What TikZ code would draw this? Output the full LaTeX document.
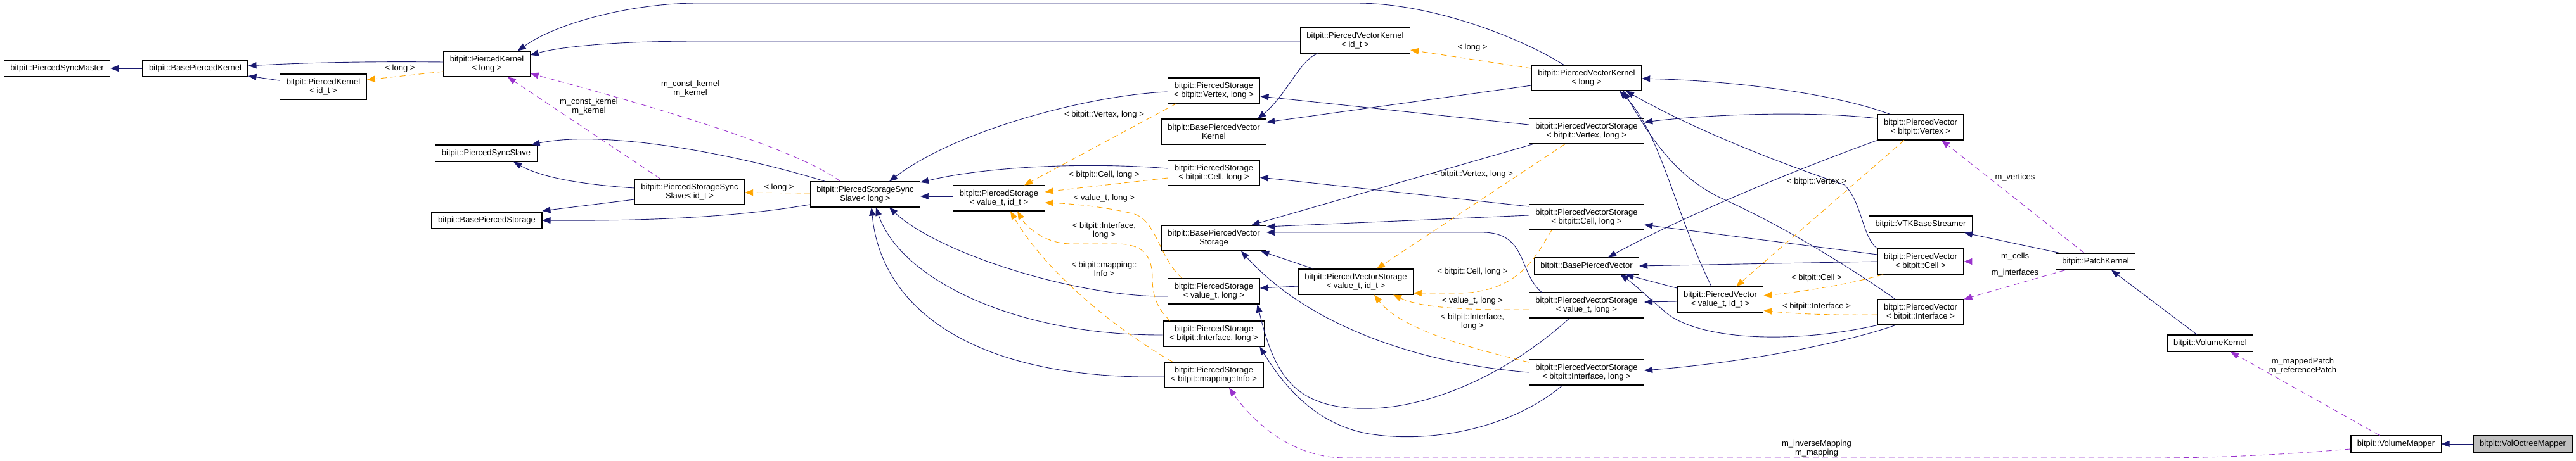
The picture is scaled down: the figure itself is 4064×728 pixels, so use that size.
\documentclass[tikz,border=0pt]{standalone}
\usepackage{fontspec}
\setmainfont{Liberation Sans}
\usepackage{tikz}
\usetikzlibrary{arrows.meta}
\definecolor{inheritcolor}{HTML}{191970}
\definecolor{templatecolor}{HTML}{FFA500}
\definecolor{usagecolor}{HTML}{9A32CD}
\colorlet{focusfill}{black!25}
\tikzset{
  class box/.style={
      draw=black, line width=1.1pt, fill=white, align=center,
      inner xsep=10pt, inner ysep=2pt, minimum height=26pt
    },
  class box two/.style={class box, minimum height=40pt},
  focus box/.style={class box, fill=focusfill},
  inherit arrow/.style={
      inheritcolor, line width=0.9pt,
        -{Triangle[length=13pt,width=10pt]}
    },
  template arrow/.style={
      templatecolor, line width=0.9pt, dash pattern=on 9pt off 6pt,
        -{Triangle[length=13pt,width=10pt]}
    },
  usage arrow/.style={
      usagecolor, line width=0.9pt, dash pattern=on 9pt off 6pt,
        -{Triangle[length=13pt,width=10pt]}
    },
  link label/.style={text=black, align=center, inner sep=0pt}
}

\begin{document}
\begin{tikzpicture}[x=1pt, y=-1pt, font=\fontsize{13}{14}\selectfont]

  \useasboundingbox (0,0) rectangle (4064,728);

  % ------------------------------------------------------------------
  % Kernel and storage classes on the left.
  % ------------------------------------------------------------------
  \node[class box] (syncmaster) at (90,108) {bitpit::PiercedSyncMaster};
  \node[class box] (basekernel) at (308,108) {bitpit::BasePiercedKernel};
  \node[class box two] (kernelid) at (510,137) {bitpit::PiercedKernel\\< id\_t >};
  \node[class box two] (kernellong) at (768,101) {bitpit::PiercedKernel\\< long >};
  \node[class box] (syncslave) at (767,242) {bitpit::PiercedSyncSlave};
  \node[class box] (basestorage) at (768,348) {bitpit::BasePiercedStorage};
  \node[class box two] (storsyncid) at (1088,303) {bitpit::PiercedStorageSync\\Slave< id\_t >};
  \node[class box two] (storsynclong) at (1365,307) {bitpit::PiercedStorageSync\\Slave< long >};
  \node[class box two] (storvalid) at (1576,313) {bitpit::PiercedStorage\\< value\_t, id\_t >};

  \node[class box two] (storvertex) at (1915,143) {bitpit::PiercedStorage\\< bitpit::Vertex, long >};
  \node[class box two] (basevecker) at (1915,208) {bitpit::BasePiercedVector\\Kernel};
  \node[class box two] (storcell) at (1915,273) {bitpit::PiercedStorage\\< bitpit::Cell, long >};
  \node[class box two] (basevecstor) at (1915,376) {bitpit::BasePiercedVector\\Storage};
  \node[class box two] (storvallong) at (1915,460) {bitpit::PiercedStorage\\< value\_t, long >};
  \node[class box two] (storiface) at (1915,527) {bitpit::PiercedStorage\\< bitpit::Interface, long >};
  \node[class box two] (stormapping) at (1915,592) {bitpit::PiercedStorage\\< bitpit::mapping::Info >};

  % ------------------------------------------------------------------
  % Vector kernels, vector storages and pierced vectors.
  % ------------------------------------------------------------------
  \node[class box two] (veckerid) at (2138,64) {bitpit::PiercedVectorKernel\\< id\_t >};
  \node[class box two] (veckerlong) at (2503,123) {bitpit::PiercedVectorKernel\\< long >};
  \node[class box two] (vecstorvertex) at (2503,207) {bitpit::PiercedVectorStorage\\< bitpit::Vertex, long >};
  \node[class box two] (vecstorcell) at (2503,343) {bitpit::PiercedVectorStorage\\< bitpit::Cell, long >};
  \node[class box two] (vecstorvalid) at (2139,445) {bitpit::PiercedVectorStorage\\< value\_t, id\_t >};
  \node[class box] (basevec) at (2503,420) {bitpit::BasePiercedVector};
  \node[class box two] (vecstorvallong) at (2503,482) {bitpit::PiercedVectorStorage\\< value\_t, long >};
  \node[class box two] (vecstoriface) at (2503,588) {bitpit::PiercedVectorStorage\\< bitpit::Interface, long >};
  \node[class box two] (vecvalid) at (2714,473) {bitpit::PiercedVector\\< value\_t, id\_t >};

  \node[class box two] (vecvertex) at (3030,201) {bitpit::PiercedVector\\< bitpit::Vertex >};
  \node[class box] (vtk) at (3030,354) {bitpit::VTKBaseStreamer};
  \node[class box two] (veccell) at (3030,413) {bitpit::PiercedVector\\< bitpit::Cell >};
  \node[class box two] (veciface) at (3030,493) {bitpit::PiercedVector\\< bitpit::Interface >};

  % ------------------------------------------------------------------
  % Patch, kernel and mapper.
  % ------------------------------------------------------------------
  \node[class box] (patch) at (3306,413) {bitpit::PatchKernel};
  \node[class box] (volkernel) at (3487,542) {bitpit::VolumeKernel};
  \node[class box] (volmapper) at (3780,701) {bitpit::VolumeMapper};
  \node[focus box] (voloctree) at (3980,701) {bitpit::VolOctreeMapper};

  % ------------------------------------------------------------------
  % Inheritance.
  % ------------------------------------------------------------------
  \draw[inherit arrow] (basekernel) -- (syncmaster);
  \draw[inherit arrow] (kernelid) -- (basekernel);
  \draw[inherit arrow] ([yshift=3pt]kernellong.west) .. controls (600,97) and (500,98) .. ([yshift=4pt]basekernel.east);
  \draw[inherit arrow] ([xshift=-36pt]veckerlong.north) .. controls (2400,60) and (2260,5) .. (2140,5)
  -- (1100,5) .. controls (1000,5) and (880,35) .. ([xshift=-20pt]kernellong.north east);
  \draw[inherit arrow] ([yshift=-1pt]veckerid.west) -- (1100,65) .. controls (960,65) and (880,75) .. ([yshift=14pt]kernellong.east);

  \draw[inherit arrow] ([yshift=6pt]storsyncid.west) .. controls (930,292) and (860,283) .. ([xshift=43pt]syncslave.south);
  \draw[inherit arrow] ([xshift=-63pt]storsynclong.north) .. controls (1150,240) and (950,205) .. ([xshift=-9pt]syncslave.north east);
  \draw[inherit arrow] ([yshift=-12pt]storsyncid.west) -- ([yshift=15pt]basestorage.east);
  \draw[inherit arrow] ([yshift=-16pt]storsynclong.west) .. controls (1150,345) and (1000,349) .. (basestorage.east);

  \draw[inherit arrow] ([yshift=-2pt]storvertex.west) .. controls (1720,150) and (1510,205) .. ([xshift=38pt]storsynclong.north);
  \draw[inherit arrow] ([yshift=7pt]storcell.west) .. controls (1720,256) and (1560,262) .. ([yshift=19pt]storsynclong.east);
  \draw[inherit arrow] ([yshift=3pt]storvalid.west) -- ([yshift=-3pt]storsynclong.east);
  \draw[inherit arrow] ([yshift=-8pt]storvallong.west) .. controls (1700,470) and (1480,400) .. ([xshift=38pt]storsynclong.south);
  \draw[inherit arrow] ([yshift=-2pt]storiface.west) .. controls (1600,530) and (1420,440) .. ([xshift=17pt]storsynclong.south);
  \draw[inherit arrow] ([yshift=-3pt]stormapping.west) .. controls (1540,600) and (1390,490) .. ([xshift=10pt]storsynclong.south);

  \draw[inherit arrow] ([xshift=-59pt]veckerid.south) .. controls (2050,95) and (2030,150) .. ([xshift=-14pt]basevecker.north east);
  \draw[inherit arrow] ([yshift=-12pt]veckerlong.west) -- ([yshift=15pt]basevecker.east);
  \draw[inherit arrow] ([yshift=10pt]vecstorvertex.west) -- ([yshift=-9pt]storvertex.east);
  \draw[inherit arrow] ([yshift=17pt]vecstorcell.west) -- ([yshift=-7pt]storcell.east);
  \draw[inherit arrow] ([xshift=7pt]vecstorvertex.south west) -- ([xshift=-24pt]basevecstor.north east);
  \draw[inherit arrow] ([yshift=3pt]vecstorcell.west) -- ([yshift=18pt]basevecstor.east);
  \draw[inherit arrow] ([xshift=-71pt]vecstorvallong.north) .. controls (2395,430) and (2410,368) .. (2340,367)
  -- ([yshift=9pt]basevecstor.east);
  \draw[inherit arrow] ([xshift=-67pt]vecstorvalid.north) -- ([xshift=-9pt]basevecstor.south east);
  \draw[inherit arrow] (vecstoriface.west) .. controls (2250,575) and (2070,520) .. ([xshift=43pt]basevecstor.south);
  \draw[inherit arrow] ([yshift=-7pt]vecstorvalid.west) -- ([yshift=5pt]storvallong.east);
  \draw[inherit arrow] ([xshift=-27pt]vecstorvallong.south) .. controls (2380,590) and (2250,650) .. (2140,645)
  .. controls (2040,640) and (2010,590) .. ([xshift=-4pt]storvallong.south east);
  \draw[inherit arrow] ([xshift=-38pt]vecstoriface.south) .. controls (2380,680) and (2250,700) .. (2160,685)
  .. controls (2070,670) and (2020,600) .. ([xshift=-8pt]storiface.south east);

  \draw[inherit arrow] ([xshift=-48pt]vecvertex.north) .. controls (2900,150) and (2750,128) .. ([yshift=-1pt]veckerlong.east);
  \draw[inherit arrow] ([yshift=14pt]vecvertex.west) .. controls (2860,175) and (2700,180) .. ([yshift=14pt]vecstorvertex.east);
  \draw[inherit arrow] (vecvertex.south west) .. controls (2800,280) and (2640,350) .. ([xshift=34pt]basevec.north);
  \draw[inherit arrow] (veccell.north west) .. controls (2938,375) and (2938,320) .. (2910,292)
  .. controls (2860,275) and (2700,220) .. ([xshift=62pt]veckerlong.south);
  \draw[inherit arrow] ([xshift=-40pt]veciface.north) .. controls (2930,430) and (2820,360) .. (2720,315)
  .. controls (2640,279) and (2600,210) .. ([xshift=58pt]veckerlong.south);
  \draw[inherit arrow] ([xshift=-14pt]vecvalid.north) .. controls (2640,330) and (2620,210) .. ([xshift=52pt]veckerlong.south);
  \draw[inherit arrow] (veccell.west) -- (basevec.east);
  \draw[inherit arrow] ([yshift=18pt]vecvalid.west) -- ([xshift=-22pt]basevec.south east);
  \draw[inherit arrow] (veciface.south west) .. controls (2820,545) and (2680,535) .. (2630,495)
  .. controls (2600,470) and (2580,450) .. ([xshift=-30pt]basevec.south east);
  \draw[inherit arrow] ([yshift=-3pt]vecvalid.west) -- ([yshift=5pt]vecstorvallong.east);
  \draw[inherit arrow] ([xshift=-40pt]veciface.south) .. controls (2930,535) and (2780,570) .. ([yshift=3pt]vecstoriface.east);
  \draw[inherit arrow] ([yshift=11pt]veccell.west) -- ([yshift=-12pt]vecstorcell.east);

  \draw[inherit arrow] ([xshift=-57pt]patch.north) -- ([xshift=-13pt]vtk.south east);
  \draw[inherit arrow] ([xshift=-21pt]volkernel.north) -- ([xshift=25pt]patch.south);
  \draw[inherit arrow] (voloctree) -- (volmapper);

  % ------------------------------------------------------------------
  % Template instances.
  % ------------------------------------------------------------------
  \draw[template arrow] ([yshift=-12pt]kernellong.west) -- ([yshift=11pt]kernelid.east)
  node[link label] at (631,108) {< long >};
  \draw[template arrow] ([yshift=2pt]storsynclong.west) -- ([yshift=-1pt]storsyncid.east)
  node[link label] at (1229,296) {< long >};
  \draw[template arrow] ([xshift=-59pt]storvertex.south) -- ([xshift=40pt]storvalid.north)
  node[link label] at (1742,181) {< bitpit::Vertex, long >};
  \draw[template arrow] ([yshift=-8pt]storcell.west) -- ([yshift=10pt]storvalid.east)
  node[link label] at (1742,276) {< bitpit::Cell, long >};
  \draw[template arrow] ([xshift=-50pt]storvallong.north) .. controls (1830,410) and (1825,350) .. (1790,338)
  .. controls (1750,328) and (1700,322) .. ([yshift=-7pt]storvalid.east)
  node[link label] at (1742,313) {< value\_t, long >};
  \draw[template arrow] ([xshift=-69pt]storiface.north) .. controls (1828,490) and (1818,470) .. (1818,440)
  .. controls (1818,400) and (1800,385) .. (1760,385) -- (1690,385)
  .. controls (1650,385) and (1620,360) .. ([xshift=29pt]storvalid.south)
  node[link label] at (1742,364) {< bitpit::Interface,\\long >};
  \draw[template arrow] ([xshift=-65pt]stormapping.north) .. controls (1760,520) and (1650,430) .. ([xshift=18pt]storvalid.south)
  node[link label] at (1742,425) {< bitpit::mapping::\\Info >};

  \draw[template arrow] ([yshift=15pt]veckerlong.west) -- ([yshift=-15pt]veckerid.east)
  node[link label] at (2323,75) {< long >};
  \draw[template arrow] ([xshift=-34pt]vecstorvertex.south) -- ([xshift=33pt]vecstorvalid.north)
  node[link label] at (2324,275) {< bitpit::Vertex, long >};
  \draw[template arrow] ([xshift=-55pt]vecstorcell.south) .. controls (2425,400) and (2400,462) .. (2300,463)
  -- ([yshift=-18pt]vecstorvalid.east)
  node[link label] at (2323,429) {< bitpit::Cell, long >};
  \draw[template arrow] ([yshift=-7pt]vecstorvallong.west) .. controls (2300,490) and (2240,485) .. ([xshift=59pt]vecstorvalid.south)
  node[link label] at (2323,475) {< value\_t, long >};
  \draw[template arrow] ([yshift=16pt]vecstoriface.west) .. controls (2320,550) and (2210,520) .. ([xshift=29pt]vecstorvalid.south)
  node[link label] at (2323,508) {< bitpit::Interface,\\long >};

  \draw[template arrow] ([xshift=-26pt]vecvertex.south) -- ([xshift=25pt]vecvalid.north)
  node[link label] at (2866,287) {< bitpit::Vertex >};
  \draw[template arrow] ([xshift=-59pt]veccell.south) .. controls (2920,448) and (2850,460) .. ([yshift=6pt]vecvalid.east)
  node[link label] at (2866,439) {< bitpit::Cell >};
  \draw[template arrow] ([yshift=-4pt]veciface.west) .. controls (2880,498) and (2820,495) .. ([yshift=-17pt]vecvalid.east)
  node[link label] at (2866,484) {< bitpit::Interface >};

  % ------------------------------------------------------------------
  % Usage by members.
  % ------------------------------------------------------------------
  \draw[usage arrow] ([xshift=-46pt]storsyncid.north) -- ([xshift=33pt]kernellong.south)
  node[link label] at (929,168) {m\_const\_kernel\\m\_kernel};
  \draw[usage arrow] ([xshift=-39pt]storsynclong.north) .. controls (1250,230) and (1000,160) .. ([yshift=-15pt]kernellong.east)
  node[link label] at (1089,140) {m\_const\_kernel\\m\_kernel};
  \draw[usage arrow] ([xshift=-18pt]patch.north) -- ([xshift=33pt]vecvertex.south)
  node[link label] at (3179,280) {m\_vertices};
  \draw[usage arrow] (patch.west) -- (veccell.east)
  node[link label] at (3179,405) {m\_cells};
  \draw[usage arrow] ([xshift=-48pt]patch.south) -- (veciface.north east)
  node[link label] at (3179,431) {m\_interfaces};
  \draw[usage arrow] ([xshift=-26pt]volmapper.north) -- ([xshift=32pt]volkernel.south)
  node[link label] at (3633,578) {m\_mappedPatch\\m\_referencePatch};
  \draw[usage arrow] ([yshift=-8pt]volmapper.west) .. controls (3600,718) and (3500,723) .. (3400,723)
  -- (2120,723) .. controls (2040,722) and (1980,670) .. ([xshift=24pt]stormapping.south)
  node[link label] at (2866,708) {m\_inverseMapping\\m\_mapping};

\end{tikzpicture}
\end{document}
